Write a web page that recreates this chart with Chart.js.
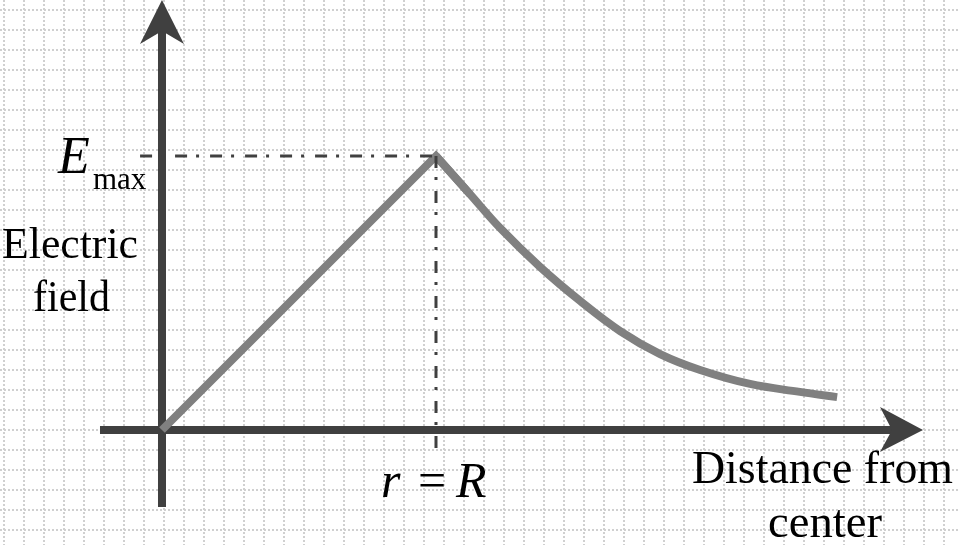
<!DOCTYPE html>
<html>
<head>
<meta charset="utf-8">
<script src="https://cdn.jsdelivr.net/npm/chart.js@4/dist/chart.umd.min.js"></script>
<style>
  html, body { margin: 0; padding: 0; background: #ffffff; }
  #wrap { width: 960px; height: 545px; }
</style>
</head>
<body>
<div id="wrap"><canvas id="c" width="960" height="545"></canvas></div>
<script>
// ---- data (r in units of R, E in units of Emax) ----
const riseR  = [0, 1, 1.124];
const riseE  = [0, 1, 0.861];
const decayR = [1, 1.124, 1.234, 1.380, 1.526, 1.672, 1.818, 1.964, 2.146, 2.328, 2.464];
const decayE = [1, 0.861, 0.737, 0.595, 0.471, 0.361, 0.277, 0.219, 0.168, 0.139, 0.120];
const peakR = 1;
const peakE = 1;
const yLabelLines = ['Electric', 'field'];
const xLabelLines = ['Distance from', 'center'];

const toPts = (xs, ys) => xs.map((x, i) => ({ x: x, y: ys[i] }));

const AXIS = '#404040';
const CURVE = '#808080';
const SERIF = '"Liberation Serif", "Times New Roman", serif';

const gridPlugin = {
  id: 'paperGrid',
  beforeDraw(chart) {
    const ctx = chart.ctx;
    const W = chart.width, H = chart.height;
    ctx.save();
    ctx.fillStyle = '#ffffff';
    ctx.fillRect(0, 0, W, H);
    ctx.fillStyle = '#d0d0d0';
    for (let y = 9; y < H; y += 20) {
      for (let x = 0; x < W; x += 4) ctx.fillRect(x, y, 2, 2);
    }
    for (let x = 3; x < W; x += 20) {
      for (let y = 0; y < H; y += 4) ctx.fillRect(x, y, 2, 2);
    }
    ctx.restore();
  }
};

const axesPlugin = {
  id: 'arrowAxes',
  beforeDatasetsDraw(chart) {
    const ctx = chart.ctx;
    const xs = chart.scales.x, ys = chart.scales.y;
    const x0 = xs.getPixelForValue(0), y0 = ys.getPixelForValue(0);
    ctx.save();
    ctx.fillStyle = AXIS;
    // y axis
    const yt = 0;
    ctx.fillRect(x0 - 4, yt + 30, 8, (y0 + 77) - (yt + 30));
    ctx.beginPath();
    ctx.moveTo(x0, yt);
    ctx.lineTo(x0 + 22, yt + 44);
    ctx.lineTo(x0, yt + 31);
    ctx.lineTo(x0 - 22, yt + 44);
    ctx.closePath();
    ctx.fill();
    // x axis
    const xt = 923;
    ctx.fillRect(x0 - 62, y0 - 4, (xt - 29) - (x0 - 62), 8);
    ctx.beginPath();
    ctx.moveTo(xt, y0);
    ctx.lineTo(xt - 43, y0 - 23);
    ctx.lineTo(xt - 31, y0);
    ctx.lineTo(xt - 43, y0 + 22);
    ctx.closePath();
    ctx.fill();
    ctx.restore();
  }
};

function fitText(ctx, s, font, left, baseline, width) {
  ctx.save();
  ctx.font = font;
  const w = ctx.measureText(s).width;
  const k = width / w;
  ctx.translate(left, baseline);
  ctx.scale(k, 1);
  ctx.textAlign = 'left';
  ctx.textBaseline = 'alphabetic';
  ctx.fillText(s, 0, 0);
  ctx.restore();
}

const labelPlugin = {
  id: 'labels',
  afterDraw(chart) {
    const ctx = chart.ctx;
    ctx.save();
    ctx.fillStyle = '#000000';
    ctx.textBaseline = 'alphabetic';
    // E_max
    ctx.font = 'italic 52px ' + SERIF;
    ctx.fillText('E', 58, 173);
    ctx.font = '31px ' + SERIF;
    ctx.fillText('max', 93, 189);
    // y label
    fitText(ctx, yLabelLines[0], '44px ' + SERIF, 2, 258, 136);
    fitText(ctx, yLabelLines[1], '44px ' + SERIF, 33, 311, 77);
    // r = R
    ctx.font = 'italic 50px ' + SERIF;
    ctx.fillText('r', 381, 497);
    ctx.font = '50px ' + SERIF;
    ctx.fillText('=', 418, 497);
    ctx.font = 'italic 50px ' + SERIF;
    ctx.fillText('R', 456, 497);
    // x label
    fitText(ctx, xLabelLines[0], '46px ' + SERIF, 692, 483, 261);
    fitText(ctx, xLabelLines[1], '46px ' + SERIF, 768, 537, 114);
    ctx.restore();
  }
};

function build() {
  new Chart(document.getElementById('c'), {
    type: 'scatter',
    data: {
      datasets: [
        {
          label: 'E guide',
          data: [{ x: -0.08, y: peakE }, { x: peakR, y: peakE }],
          showLine: true, borderColor: AXIS, borderWidth: 3,
          borderDash: [12, 9, 3, 11], pointRadius: 0, order: 0
        },
        {
          label: 'R guide',
          data: [{ x: peakR, y: peakE }, { x: peakR, y: -0.066 }],
          showLine: true, borderColor: AXIS, borderWidth: 3,
          borderDash: [12, 9, 3, 11], pointRadius: 0, order: 0
        },
        {
          label: 'inside',
          data: toPts(riseR, riseE),
          showLine: true, borderColor: CURVE, borderWidth: 8,
          borderCapStyle: 'butt', borderJoinStyle: 'miter',
          tension: 0, pointRadius: 0, order: 2
        },
        {
          label: 'outside',
          data: toPts(decayR, decayE),
          showLine: true, borderColor: CURVE, borderWidth: 8,
          borderCapStyle: 'butt', tension: 0.4,
          pointRadius: 0, order: 1
        }
      ]
    },
    options: {
      responsive: false,
      devicePixelRatio: 1,
      animation: false,
      layout: { padding: 0 },
      plugins: { legend: { display: false }, tooltip: { enabled: false } },
      scales: {
        x: { type: 'linear', min: -0.5912, max: 2.9124, display: false },
        y: { type: 'linear', min: -0.4197, max: 1.5693, display: false }
      }
    },
    plugins: [gridPlugin, axesPlugin, labelPlugin]
  });
}

const fontLoads = document.fonts && document.fonts.load
  ? Promise.all([
      document.fonts.load('44px "Liberation Serif"'),
      document.fonts.load('italic 50px "Liberation Serif"')
    ]).catch(() => null)
  : Promise.resolve();
fontLoads.then(build, build);
</script>
</body>
</html>
